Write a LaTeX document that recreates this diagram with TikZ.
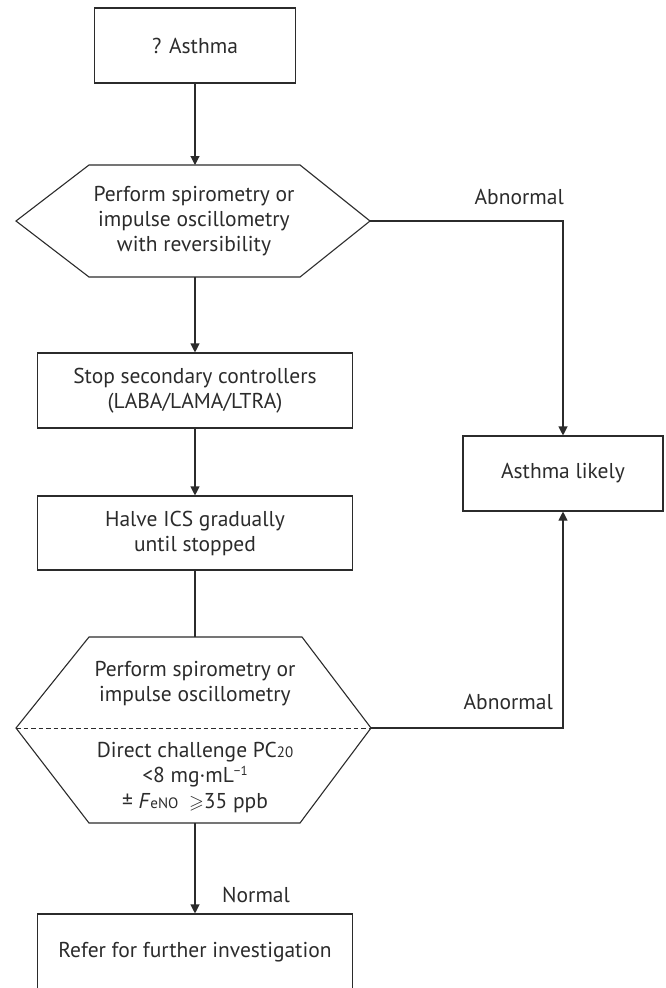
\documentclass[tikz,border=0pt]{standalone}
\usepackage{fontspec}
\usepackage{amssymb}
\setmainfont{PT Sans}
\usetikzlibrary{arrows.meta}
\definecolor{ink}{HTML}{2B2B2B}
\begin{document}
\begin{tikzpicture}[x=1pt,y=-1pt,
  line/.style={draw=ink, line width=1.1pt},
  arr/.style={line, -{Triangle[length=9pt,width=9pt]}},
  lbl/.style={text=ink, font=\fontsize{21.5}{25}\selectfont, inner sep=0pt},
  txt/.style={lbl, align=center},
  box/.style={txt, draw=ink, line width=1.1pt},
]
\useasboundingbox (0,0) rectangle (665,988);
\clip (0,0) rectangle (665,988);

% boxes
\node[box, minimum width=201pt, minimum height=75pt] (top) at (195,45.5) {? Asthma};
\node[box, minimum width=315pt, minimum height=75pt] (stop) at (195,390.5) {Stop secondary controllers\\(LABA/LAMA/LTRA)};
\node[box, minimum width=315pt, minimum height=74pt] (halve) at (195,533) {Halve ICS gradually\\until stopped};
\node[box, minimum width=200pt, minimum height=75pt] (likely) at (563,473.5) {Asthma likely};
\node[box, minimum width=315pt, minimum height=76pt] (refer) at (195,952) {Refer for further investigation};

% hexagon 1
\coordinate (h1l) at (16,221);
\coordinate (h1r) at (370,221);
\coordinate (h1t) at (195,165);
\coordinate (h1b) at (195,277);
\draw[line] (h1l) -- (89,165) -- (300,165) -- (h1r) -- (300,277) -- (89,277) -- cycle;
\node[txt] (h1text) at (194,221) {Perform spirometry or\\impulse oscillometry\\with reversibility};

% hexagon 2
\coordinate (h2l) at (16,728);
\coordinate (h2r) at (371,728);
\coordinate (h2t) at (195,637);
\coordinate (h2b) at (195,823);
\draw[line] (h2l) -- (89,637) -- (302,637) -- (h2r) -- (300,823) -- (89,823) -- cycle;
\draw[draw=ink, line width=0.8pt, dash pattern=on 4.5pt off 3pt] (h2l) -- (h2r);
\node[txt] (h2top) at (195,684) {Perform spirometry or\\impulse oscillometry};
\node[txt, font=\fontsize{21.5}{25.5}\selectfont] (h2bot) at (195,777) {Direct challenge PC{\fontsize{15}{17}\selectfont 20}\\
  <8 mg·mL{\fontsize{13}{13}\selectfont\raisebox{7.5pt}{−1}}\\
  ± \textit{F}{\fontsize{15}{17}\selectfont eNO}\enspace{\fontsize{19}{19}\selectfont$\geqslant$}35 ppb};

% connectors
\draw[arr] (top.south) -- (h1t);
\draw[arr] (h1b) -- (stop.north);
\draw[arr] (stop.south) -- (halve.north);
\draw[line] (halve.south) -- (h2t);
\draw[arr] (h2b) -- (refer.north);
\draw[arr] (h1r) -| (likely.north);
\draw[arr] (h2r) -| (likely.south);

% labels
\node[lbl, anchor=east] (ab1) at (564,197) {Abnormal};
\node[lbl, anchor=east] (ab2) at (553,702) {Abnormal};
\node[lbl, anchor=west] (norm) at (222,895) {Normal};
\end{tikzpicture}
\end{document}
